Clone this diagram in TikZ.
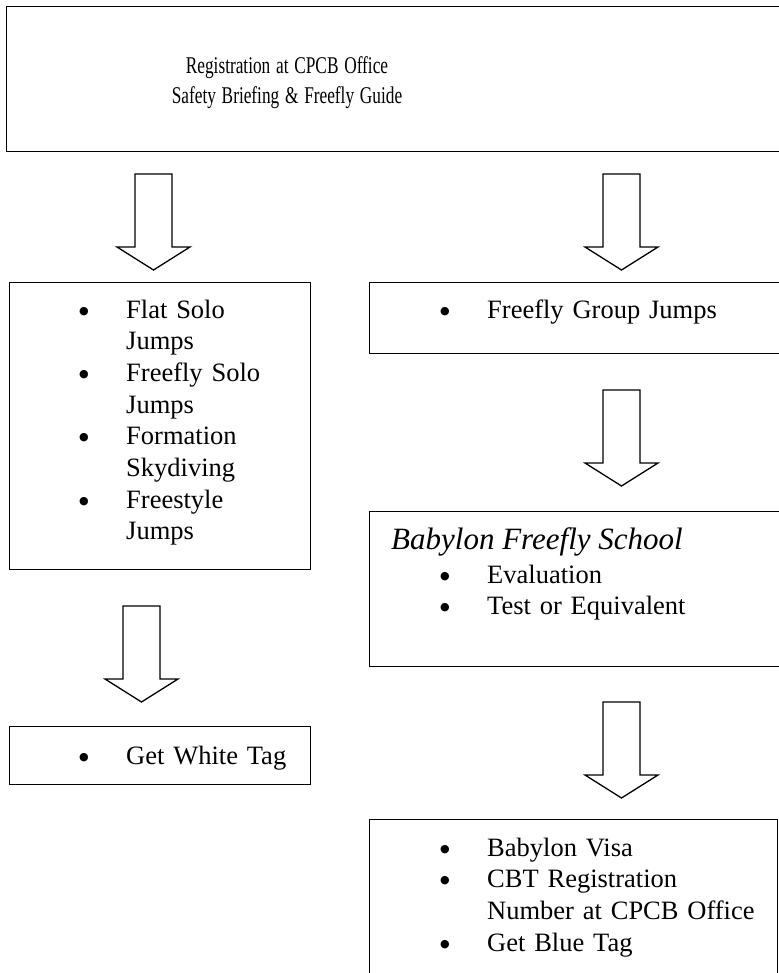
\documentclass[tikz,border=0pt]{standalone}
\usepackage{fontspec}
\setmainfont{Liberation Serif}
\newfontfamily\bulfont{DejaVu Sans}
\usetikzlibrary{positioning}
\newcommand{\bul}{\makebox[47pt][l]{\raisebox{4pt}{\bulfont\fontsize{11}{11}\selectfont ●}}}
\newcommand{\cont}{\hspace*{47pt}}
\newcommand{\narrowline}[1]{\scalebox{0.72}[1]{#1}}
% hollow block arrow: centre x, top y
\newcommand{\blockarrow}[2]{%
  \draw[flowarrow] (#1-18.5,#2) -- (#1+18.5,#2) -- (#1+18.5,#2+73) -- (#1+36.5,#2+73)
    -- (#1,#2+96) -- (#1-36.5,#2+73) -- (#1-18.5,#2+73) -- cycle;}
\tikzset{
  box/.style={draw,line width=1.3pt,anchor=north west,inner sep=0pt},
  flowarrow/.style={draw,line width=1.3pt,fill=white},
  listtxt/.style={anchor=base west,inner sep=0pt,text width=340pt,align=left,font=\fontsize{26.5}{31.7}\selectfont},
}
\begin{document}
\begin{tikzpicture}[x=1pt,y=-1pt,
  headtxt/.style={anchor=base,inner sep=0pt,text width=320pt,align=center,font=\fontsize{24}{29.3}\selectfont},
  titletxt/.style={anchor=base west,inner sep=0pt,font=\itshape\fontsize{31}{36}\selectfont}]
  \useasboundingbox (0,0) rectangle (778,973);
  % boxes
  \node[box,minimum width=790pt,minimum height=145pt] (reg) at (6,6) {};
  \node[box,minimum width=301pt,minimum height=287pt] (solo) at (9,282) {};
  \node[box,minimum width=430pt,minimum height=71pt] (group) at (369,282) {};
  \node[box,minimum width=430pt,minimum height=155pt] (school) at (369,511) {};
  \node[box,minimum width=301pt,minimum height=58pt] (white) at (9,726) {};
  \node[box,minimum width=408pt,minimum height=170pt] (blue) at (369,819) {};
  % texts
  \node[headtxt] (regtxt) at (287,74) {\narrowline{Registration at CPCB Office}\\\narrowline{Safety Briefing \& Freefly Guide}};
  \node[listtxt] (solotxt) at (79,318) {\bul Flat Solo\\\cont Jumps\\\bul Freefly Solo\\\cont Jumps\\\bul Formation\\\cont Skydiving\\\bul Freestyle\\\cont Jumps};
  \node[listtxt] (grouptxt) at (440,318) {\bul Freefly Group Jumps};
  \node[titletxt] (schooltitle) at (391,549) {Babylon Freefly School};
  \node[listtxt] (schooltxt) at (440,583) {\bul Evaluation\\\bul Test or Equivalent};
  \node[listtxt] (whitetxt) at (79,764) {\bul Get White Tag};
  \node[listtxt] (bluetxt) at (440,856) {\bul Babylon Visa\\\bul CBT Registration\\\cont Number at CPCB Office\\\bul Get Blue Tag};
  % arrows
  \blockarrow{153.5}{174}
  \blockarrow{621.5}{174}
  \blockarrow{621.5}{390}
  \blockarrow{141.5}{606}
  \blockarrow{621.5}{702}
\end{tikzpicture}
\end{document}
